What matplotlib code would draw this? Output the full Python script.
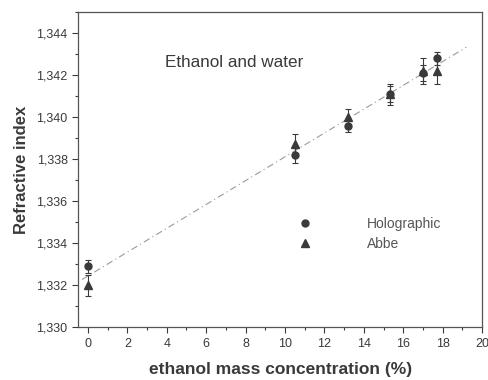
import numpy as np
import matplotlib.pyplot as plt
from matplotlib.ticker import MultipleLocator, FuncFormatter

# data
conc = [0.0, 10.5, 13.2, 15.3, 17.0, 17.7]
holo = [1.3329, 1.3382, 1.3396, 1.3411, 1.3421, 1.3428]
holo_err = [0.0003, 0.0004, 0.0003, 0.0004, 0.0004, 0.0003]
abbe = [1.3320, 1.3387, 1.3400, 1.3411, 1.3422, 1.3422]
abbe_err = [0.0005, 0.0005, 0.0004, 0.0005, 0.0006, 0.0006]
fit_x = [-0.3, 19.2]

col = '#3a3a3a'
plt.rcParams['font.family'] = ['Liberation Sans', 'DejaVu Sans']

fig = plt.figure(figsize=(4.88, 3.8), dpi=100)
ax = fig.add_axes([0.160, 0.139, 0.828, 0.829])

# linear fit over both series
x_all = np.array(conc + conc)
y_all = np.array(holo + abbe)
slope, icpt = np.polyfit(x_all, y_all, 1)
fx = np.array(fit_x)
ax.plot(fx, icpt + slope * fx, ls=(0, (6, 3, 1, 3)), color='#9a9a9a', lw=0.8, zorder=1)

ax.errorbar(conc, holo, yerr=holo_err, fmt='o', ms=5, color=col, ecolor=col,
            elinewidth=0.8, capsize=2.5, capthick=0.8, label='Holographic', zorder=3)
ax.errorbar(conc, abbe, yerr=abbe_err, fmt='^', ms=6, color=col, ecolor=col,
            elinewidth=0.8, capsize=2.5, capthick=0.8, label='Abbe', zorder=3)

ax.set_xlim(-0.5, 20)
ax.set_ylim(1.330, 1.345)
ax.xaxis.set_major_locator(MultipleLocator(2))
ax.xaxis.set_minor_locator(MultipleLocator(1))
ax.yaxis.set_major_locator(MultipleLocator(0.002))
ax.yaxis.set_minor_locator(MultipleLocator(0.001))
ax.yaxis.set_major_formatter(FuncFormatter(lambda v, p: f'{v:.3f}'.replace('.', ',')))
ax.tick_params(which='both', direction='out', colors=col, labelsize=9, width=0.8)
ax.tick_params(which='major', length=4)
ax.tick_params(which='minor', length=2)
for s in ax.spines.values():
    s.set_color('#555555')
    s.set_linewidth(0.9)

ax.set_xlabel('ethanol mass concentration (%)', fontsize=12.5, color=col, fontweight='bold', labelpad=9)
ax.set_ylabel('Refractive index', fontsize=12, color=col, fontweight='bold', labelpad=5)

ax.text(3.9, 1.3426, 'Ethanol and water', fontsize=12.3, color=col, va='center')

handles, labels = ax.get_legend_handles_labels()
handles = [h[0] for h in handles]
leg = ax.legend(handles, labels, loc='upper left', bbox_to_anchor=(0.513, 0.39), frameon=False,
                fontsize=10, handletextpad=4.0, labelspacing=0.44, handlelength=1.0)
for t in leg.get_texts():
    t.set_color('#555555')

fig.savefig('out.png', dpi=100)
